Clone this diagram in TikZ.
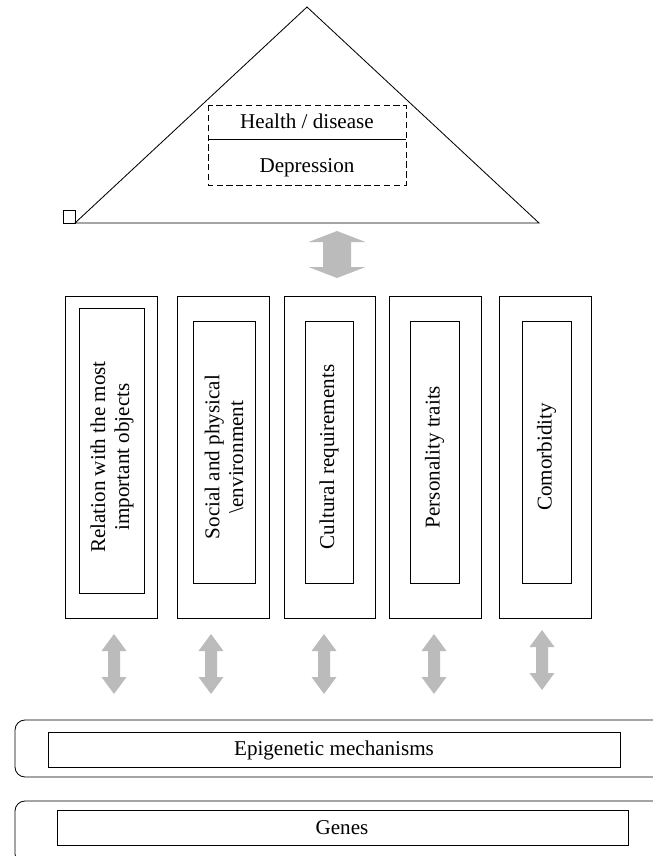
\documentclass[tikz,border=0pt]{standalone}
\usepackage{fontspec}
\setmainfont{Liberation Serif}
\usepackage{xcolor}
\usepackage{tikz}
\usetikzlibrary{calc}

\definecolor{arrowgray}{RGB}{187,187,187}

% fat two-headed arrow: top, bottom, half head width, half shaft width, head length
\newcommand{\fatarrow}[5]{%
  \fill [arrowgray] (#1) -- ++(#3,#5) -- ++(-#3+#4,0) -- ($(#2)+(#4,-#5)$)
    -- ++(#3-#4,0) -- (#2) -- ++(-#3,-#5) -- ++(#3-#4,0)
    -- ($(#1)+(-#4,#5)$) -- ++(-#3+#4,0) -- cycle;}

\begin{document}
\begin{tikzpicture}[x=0.025cm, y=-0.025cm, line width=0.6pt,
                    font=\fontsize{15}{17}\selectfont]
         \useasboundingbox (0,0) rectangle (652,856);
         % Roof
         \coordinate (left)  at (75,223);
         \coordinate (apex)  at (307,7);
         \coordinate (right) at (539,223);
         \draw (left) -- (apex) -- (right) -- cycle;
         \draw (63,210) rectangle (left);
         \draw [dash pattern=on 4.5pt off 2.5pt] (208,105) rectangle (406,185);
         \draw (208,139) -- (406,139);
         \node (health) at (307,121) {Health / disease};
         \node (depr)   at (307,168) {Depression};
         % Pillars
         \draw (65,296) rectangle (157,618);
         \draw (79,308) rectangle (144,593);
         \node [rotate=90, align=center] (rel) at (112,457) {Relation with the most\\important objects};
         \draw (177,296) rectangle (269,618);
         \draw (193,321) rectangle (255,583);
         \node [rotate=90, align=center] (env) at (224,457) {Social and physical\\\textbackslash environment};
         \draw (284,296) rectangle (375,618);
         \draw (305,321) rectangle (353,583);
         \node [rotate=90] (cult) at (329,457) {Cultural requirements};
         \draw (389,296) rectangle (481,618);
         \draw (410,321) rectangle (459,583);
         \node [rotate=90] (pers) at (434.5,457) {Personality traits};
         \draw (499,296) rectangle (591,618);
         \draw (522,321) rectangle (571,583);
         \node [rotate=90] (comor) at (546.5,457) {Comorbidity};
         % Arrows
         \coordinate (roofarr) at (337,231);
         \coordinate (pilarr)  at (337,278);
         \fatarrow{roofarr}{pilarr}{28.5}{14}{11}
         \coordinate (top1) at (114,634);
         \coordinate (bot1) at (114,694);
         \coordinate (top2) at (211,634);
         \coordinate (bot2) at (211,694);
         \coordinate (top3) at (324,634);
         \coordinate (bot3) at (324,694);
         \coordinate (top4) at (434,634);
         \coordinate (bot4) at (434,694);
         \coordinate (top5) at (542,630);
         \coordinate (bot5) at (542,690);
         \foreach \n in {1,...,5} {\fatarrow{top\n}{bot\n}{12.5}{6}{17}}
         % Base
         \draw [rounded corners=0.25cm] (680,720) -- (15,720) -- (15,777) -- (680,777);
         \draw (48,732) rectangle (620,767);
         \node (epi) at (334,750) {Epigenetic mechanisms};
         \draw [rounded corners=0.25cm] (680,801) -- (15,801) -- (15,864) -- (680,864);
         \draw (57,810) rectangle (628,845);
         \node (genes) at (342,828) {Genes};
     \end{tikzpicture}
\end{document}
